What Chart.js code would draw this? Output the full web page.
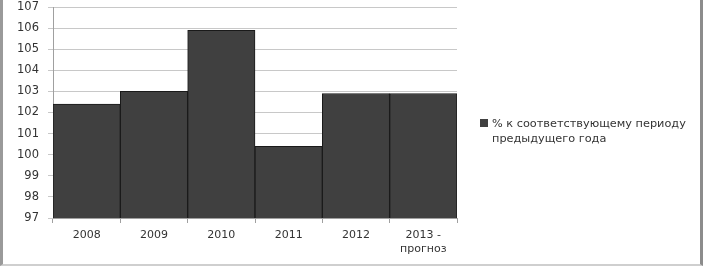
<!DOCTYPE html>
<html>
<head>
<meta charset="utf-8">
<script src="https://cdn.jsdelivr.net/npm/chart.js@4"></script>
<style>
  html, body { margin: 0; padding: 0; background: #fff; }
  #wrap { position: relative; width: 703px; height: 266px; overflow: hidden; }
  #frame { position: absolute; left: 0; top: 0; width: 703px; height: 266px; box-sizing: border-box;
    border-left: 3px solid #9a9a9a; border-right: 3px solid #8c8c8c; border-bottom: 2px solid #cfcfcf; pointer-events: none; }
  #legend { position: absolute; left: 480px; top: 116px; font-family: "DejaVu Sans", sans-serif; font-size: 11.3px;
    color: #333; line-height: 15px; }
  #legend .box { display: inline-block; width: 8px; height: 8px; background: #404040; margin-right: 4px; vertical-align: 0px; }
  #legend .l2 { padding-left: 12px; }
</style>
</head>
<body>
<div id="wrap">
  <canvas id="chart" width="703" height="266"></canvas>
  <div id="legend"></div>
  <div id="frame"></div>
</div>
<script>
const years = ["2008", "2009", "2010", "2011", "2012", ["2013 -", "прогноз"]]
const percentOfPrevYear = [102.4, 103.0, 105.9, 100.4, 102.9, 102.9]
const seriesName = "% к соответствующему периоду предыдущего года"
const legendLines = ["% к соответствующему периоду", "предыдущего года"]

document.getElementById('legend').innerHTML =
    '<div><span class="box"></span>' + legendLines[0] + '</div><div class="l2">' + legendLines[1] + '</div>'

const font = {family: "'DejaVu Sans', sans-serif", size: 11}
var ctx = document.getElementById('chart').getContext('2d');
new Chart(ctx, {
    type: 'bar',
    data: {
        labels: years,
        datasets: [{
            label: seriesName,
            backgroundColor: '#404040',
            borderColor: '#1a1a1a',
            borderWidth: 1,
            barPercentage: 1,
            categoryPercentage: 1,
            data: percentOfPrevYear
        }]
    },
    options: {
        responsive: false,
        animation: false,
        layout: {padding: {top: 7, right: 246, left: 0, bottom: 0}},
        plugins: {legend: {display: false}, tooltip: {enabled: false}},
        scales: {
            x: {
                grid: {display: true, offset: true, drawOnChartArea: false, color: '#a0a0a0', tickLength: 5},
                border: {color: '#a0a0a0'},
                ticks: {color: '#333', font, padding: 6, maxRotation: 0},
                afterFit: (s) => { s.height = 48 }
            },
            y: {
                min: 97,
                max: 107,
                grid: {color: '#c8c8c8', tickLength: 5},
                border: {color: '#a0a0a0'},
                ticks: {stepSize: 1, color: '#333', font: {family: font.family, size: 11.5}, padding: 9},
                afterFit: (s) => { s.width = 53; s.paddingTop = 0; s.paddingBottom = 0 }
            }
        }
    }
})
</script>
</body>
</html>
